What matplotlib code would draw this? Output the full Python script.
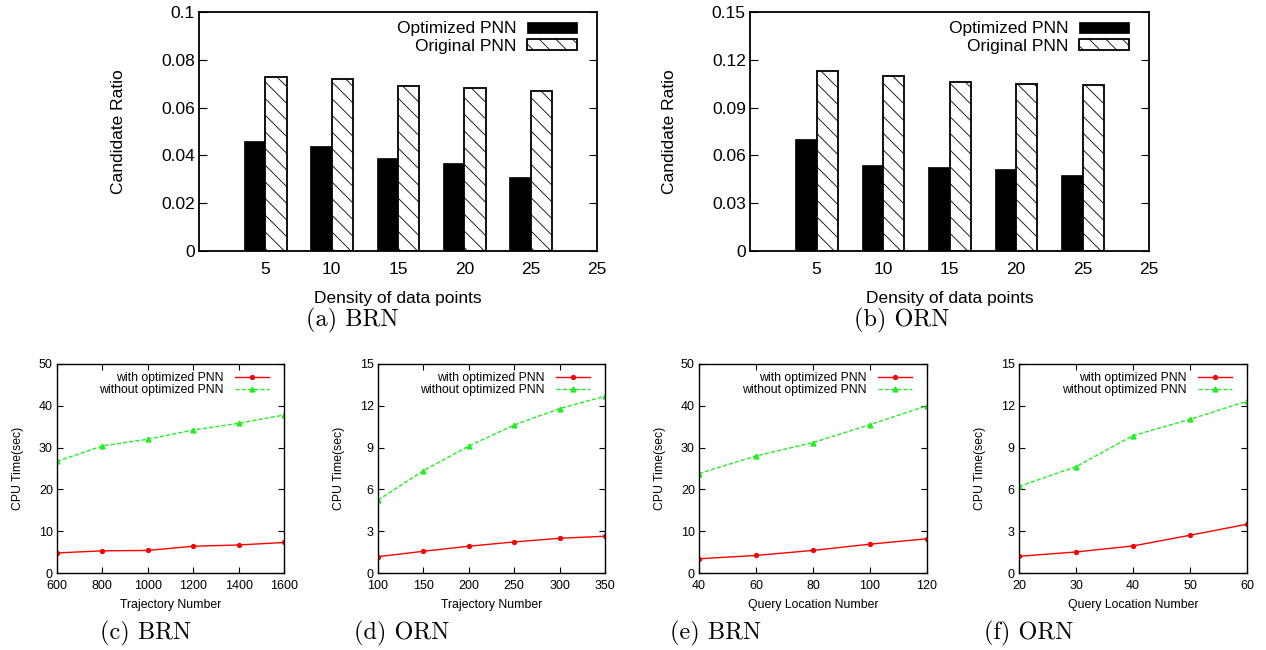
import numpy as np
import matplotlib
matplotlib.use("Agg")
import matplotlib.pyplot as plt
from matplotlib.ticker import FormatStrFormatter

plt.rcParams['font.family'] = ['Liberation Sans', 'DejaVu Sans']
plt.rcParams['hatch.linewidth'] = 0.6

# ---- top: candidate ratio bars ----
density_labels = ["5", "10", "15", "20", "25"]
brn_opt = [0.046, 0.044, 0.039, 0.037, 0.031]
brn_orig = [0.073, 0.072, 0.069, 0.068, 0.067]
orn_opt = [0.070, 0.054, 0.053, 0.0515, 0.048]
orn_orig = [0.113, 0.110, 0.106, 0.105, 0.104]

# ---- bottom: cpu time lines ----
traj_brn = [600, 800, 1000, 1200, 1400, 1600]
traj_brn_with = [4.8, 5.3, 5.4, 6.4, 6.7, 7.3]
traj_brn_without = [26.7, 30.4, 32.0, 34.2, 35.8, 37.8]

traj_orn = [100, 150, 200, 250, 300, 350]
traj_orn_with = [1.17, 1.56, 1.92, 2.23, 2.49, 2.64]
traj_orn_without = [5.23, 7.34, 9.11, 10.62, 11.8, 12.69]

query_brn = [40, 60, 80, 100, 120]
query_brn_with = [3.4, 4.2, 5.4, 6.9, 8.2]
query_brn_without = [23.8, 28.0, 31.2, 35.5, 40.0]

query_orn = [20, 30, 40, 50, 60]
query_orn_with = [1.2, 1.51, 1.94, 2.71, 3.5]
query_orn_without = [6.21, 7.63, 9.86, 11.03, 12.33]

W, H = 1266, 650
fig = plt.figure(figsize=(W / 100, H / 100), dpi=100)


def px_axes(left, top, right, bottom):
    return fig.add_axes([left / W, 1 - bottom / H, (right - left) / W, (bottom - top) / H])


def bar_chart(ax, opt, orig, ymax, step):
    pos = np.arange(1, len(opt) + 1)
    bw = 0.32
    ax.bar(pos - bw / 2, opt, bw, color="black", edgecolor="black", linewidth=0.5,
           label="Optimized PNN")
    ax.bar(pos + bw / 2, orig, bw, color="white", edgecolor="black", linewidth=1.3,
           hatch="\\\\", label="Original PNN")
    ax.set_xlim(0, 6)
    ax.set_xticks(list(pos) + [6])
    ax.set_xticklabels(density_labels + ["25"])
    ax.set_ylim(0, ymax)
    ax.set_yticks(np.arange(0, ymax + step / 2, step))
    ax.yaxis.set_major_formatter(FormatStrFormatter('%g'))
    ax.tick_params(axis='x', length=0, labelsize=12.5, pad=8)
    ax.tick_params(axis='y', direction='in', right=True, length=6, labelsize=12.5, pad=3)
    ax.set_xlabel("Density of data points", fontsize=12.5, labelpad=10)
    ax.set_ylabel("Candidate Ratio", fontsize=12.5, labelpad=25)
    for s in ax.spines.values():
        s.set_linewidth(1.3)
    ax.legend(loc="upper right", bbox_to_anchor=(0.967, 0.99), borderaxespad=0,
              frameon=False, markerfirst=False, fontsize=12.5,
              handlelength=2.9, handleheight=0.6, labelspacing=0.15,
              handletextpad=0.6)


def line_chart(ax, x, with_v, without_v, ymax, step, xlabel):
    ax.plot(x, with_v, color="#ff0000", marker="o", markersize=2.8, linewidth=1,
            label="with optimized PNN")
    ax.plot(x, without_v, color="#22ee22", linestyle=(0, (3, 1.5)), marker="^",
            markersize=3.5, linewidth=1, label="without optimized PNN")
    ax.set_xlim(x[0], x[-1])
    ax.set_xticks(x)
    ax.set_ylim(0, ymax)
    ax.set_yticks(np.arange(0, ymax + step / 2, step))
    ax.tick_params(direction='in', top=True, right=True, length=4, labelsize=9)
    ax.tick_params(axis='x', pad=5)
    ax.tick_params(axis='y', pad=3)
    ax.set_xlabel(xlabel, fontsize=8.8, labelpad=5)
    ax.set_ylabel("CPU Time(sec)", fontsize=8.8, labelpad=11)
    for s in ax.spines.values():
        s.set_linewidth(1)
    ax.legend(loc="upper right", bbox_to_anchor=(0.956, 0.985), borderaxespad=0,
              frameon=False, markerfirst=False, fontsize=8.8,
              handlelength=2.8, labelspacing=0.0, handletextpad=0.9)


ax_a = px_axes(199, 12, 597, 251)
bar_chart(ax_a, brn_opt, brn_orig, 0.1, 0.02)
ax_b = px_axes(750, 12, 1149, 251)
bar_chart(ax_b, orn_opt, orn_orig, 0.15, 0.03)

ax_c = px_axes(57, 364, 284, 573)
line_chart(ax_c, traj_brn, traj_brn_with, traj_brn_without, 50, 10, "Trajectory Number")
ax_d = px_axes(378, 364, 605, 573)
line_chart(ax_d, traj_orn, traj_orn_with, traj_orn_without, 15, 3, "Trajectory Number")
ax_e = px_axes(699, 364, 927, 573)
line_chart(ax_e, query_brn, query_brn_with, query_brn_without, 50, 10, "Query Location Number")
ax_f = px_axes(1019, 364, 1247, 573)
line_chart(ax_f, query_orn, query_orn_with, query_orn_without, 15, 3, "Query Location Number")

captions = [("(a) BRN", 352, 320), ("(b) ORN", 902, 320),
            ("(c) BRN", 146, 633), ("(d) ORN", 402, 633),
            ("(e) BRN", 716, 633), ("(f) ORN", 1029, 633)]
for txt, cx, cy in captions:
    fig.text(cx / W, 1 - cy / H, txt, ha="center", va="center", fontsize=17.5,
             family=["cmr10", "DejaVu Serif"])

fig.savefig("out.png", dpi=100)
